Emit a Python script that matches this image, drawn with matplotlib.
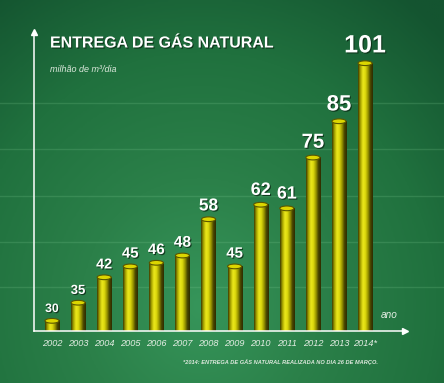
import numpy as np
import matplotlib
matplotlib.use('Agg')
import matplotlib.pyplot as plt
from matplotlib.colors import LinearSegmentedColormap
from matplotlib.patches import Ellipse
import matplotlib.patheffects as pe

years = ["2002", "2003", "2004", "2005", "2006", "2007", "2008",
         "2009", "2010", "2011", "2012", "2013", "2014*"]
values = [30, 35, 42, 45, 46, 48, 58, 45, 62, 61, 75, 85, 101]

title = "ENTREGA DE GÁS NATURAL"
unit_label = "milhão de m³/dia"
x_label = "ano"
footnote = "*2014: ENTREGA DE GÁS NATURAL REALIZADA NO DIA 26 DE MARÇO."

W, H = 444, 383
FONT = 'Liberation Sans'
fig = plt.figure(figsize=(W / 100, H / 100), dpi=100)

# background: soft green gradient, darker towards the edges
bg = fig.add_axes([0, 0, 1, 1])
bg.set_axis_off()
yy, xx = np.mgrid[0:1:200j, 0:1:230j]
r = np.sqrt(((xx - 0.45) / 0.8) ** 2 + ((yy - 0.8) / 1.0) ** 2)
bg_cmap = LinearSegmentedColormap.from_list("bg", ["#36955a", "#2b8049", "#20713e", "#145430"])
bg.imshow(np.clip(r, 0, 1), cmap=bg_cmap, extent=(0, 1, 0, 1), aspect='auto', origin='upper')
for ypx in [103, 149, 196, 242, 287]:
    bg.axhline(1 - ypx / H, color='#7cc890', lw=1.0, alpha=0.22)
bg.set_xlim(0, 1)
bg.set_ylim(0, 1)

# main axes (value axis does not start at zero)
y0, y1 = 27.2, 109.6
ax = fig.add_axes([34 / W, 1 - 331 / H, (405 - 34) / W, (331 - 32) / H])
ax.set_facecolor('none')
ax.set_xlim(-0.69, 13.53)
ax.set_ylim(y0, y1)
for s in ['top', 'right']:
    ax.spines[s].set_visible(False)
for s in ['left', 'bottom']:
    ax.spines[s].set_color('white')
    ax.spines[s].set_linewidth(1.1)
ax.set_xticks([])
ax.set_yticks([])
ax.plot([0], [1], marker='^', color='white', ms=4, transform=ax.transAxes, clip_on=False)
ax.plot([1], [0], marker='>', color='white', ms=5, transform=ax.transAxes, clip_on=False)

# cylinder-like bars
bar_cmap = LinearSegmentedColormap.from_list(
    "bar", ["#3e3c00", "#aaa600", "#ebe71c", "#dcd80c", "#9c9800", "#4a4700", "#2e2c00"])
grad = np.linspace(0, 1, 64)[None, :]
w = 0.54
eh = 1.3
shadow = [pe.withSimplePatchShadow(offset=(0.8, -0.8), shadow_rgbFace='#0b2a15', alpha=0.8)]
for i, v in enumerate(values):
    ax.imshow(grad, cmap=bar_cmap, extent=(i - w / 2, i + w / 2, y0, v),
              aspect='auto', zorder=2)
    ax.add_patch(Ellipse((i, v), w, eh, facecolor='#dcd600', edgecolor='#5a5600',
                         lw=0.8, zorder=3))
    fs = 8.8 + (v - 30) * 9.2 / 71
    ax.text(i, v + 1.6, str(v), ha='center', va='bottom', color='white',
            fontsize=fs, fontweight='bold', family=FONT, zorder=4, path_effects=shadow)
    ax.text(i, y0 - 2.3, years[i], ha='center', va='top', color='#e4eee4',
            fontsize=6.6, style='italic', family=FONT)

ax.text(12.62, 30.3, x_label, ha='left', va='bottom', color='#e4eee4',
        fontsize=7.2, style='italic', family=FONT)

fig.text(50 / W, 1 - 43 / H, title, ha='left', va='center', color='white',
         fontsize=11.5, fontweight='bold', family=FONT, path_effects=shadow)
fig.text(50 / W, 1 - 70 / H, unit_label, ha='left', va='center', color='#dce8dc',
         fontsize=6.5, style='italic', family=FONT)
fig.text(378 / W, 1 - 362 / H, footnote, ha='right', va='center', color='#dce8dc',
         fontsize=4.1, style='italic', fontweight='bold', family=FONT)

fig.savefig('out.png', dpi=100)
